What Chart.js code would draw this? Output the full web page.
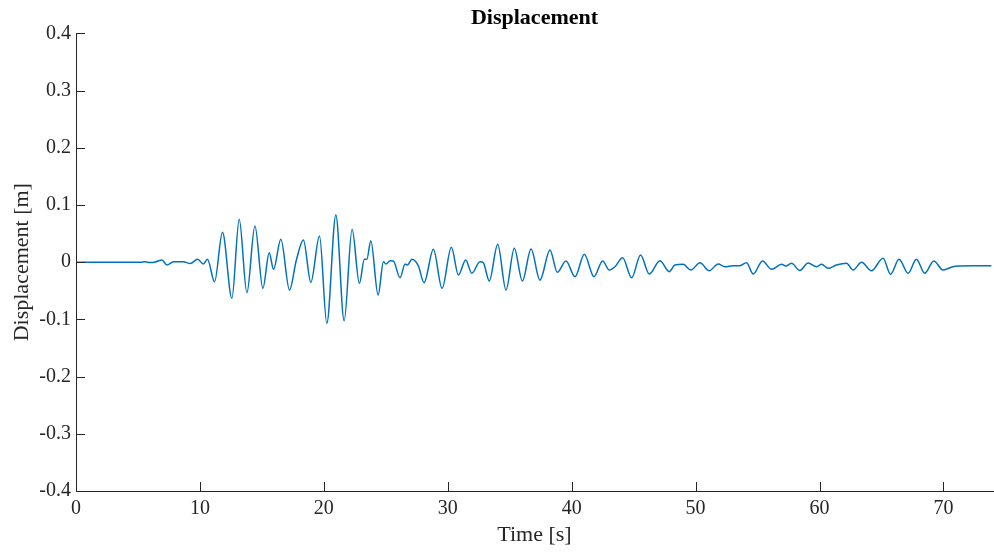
<!DOCTYPE html>
<html>
<head>
<meta charset="utf-8">
<script src="https://cdn.jsdelivr.net/npm/chart.js@4"></script>
<style>
  html, body { margin: 0; padding: 0; background: #fff; }
  #wrap { width: 994px; height: 552px; }
</style>
</head>
<body>
<div id="wrap"><canvas id="myChart" width="994" height="552"></canvas></div>
<script>
// Time [s] and displacement [m].
const timeValues = [
  0, 3.73, 5.19, 5.59, 5.99, 6.4, 6.94, 7.34, 7.87, 8.65, 9.22, 9.82, 10.28, 10.61,
  11.18, 11.82, 12.58, 13.17, 13.79, 14.44, 15.08, 15.59, 15.94, 16.53, 17.23, 17.77,
  18.35, 18.95, 19.65, 20.24, 20.97, 21.64, 22.28, 22.87, 23.27, 23.47, 23.79, 24.38,
  24.81, 25.02, 25.35, 25.61, 26.15, 26.56, 26.74, 27.12, 27.63, 28.09, 28.84, 29.54,
  30.29, 30.86, 31.45, 31.94, 32.6, 32.87, 33.35, 34.03, 34.7, 35.37, 36.02, 36.72,
  37.44, 38.25, 38.84, 39.54, 40.27, 41.02, 41.8, 42.5, 43.03, 43.49, 44.11, 44.84,
  45.56, 46.26, 47.12, 47.87, 48.33, 49.0, 49.62, 50.35, 51.1, 51.82, 52.36, 53.03,
  53.57, 54.11, 54.65, 55.4, 56.13, 56.94, 57.28, 57.74, 58.41, 59.08, 59.76, 60.16,
  60.69, 61.37, 62.18, 62.71, 63.39, 64.19, 65.13, 65.73, 66.42, 67.15, 67.82, 68.49,
  69.22, 69.97, 70.77, 71.32, 72.37, 73.87
];
const displacementValues = [
  0, 0, 0, 0.0007, -0.0007, 0.0003, 0.0039, -0.0049, 0.0009, 0.0009, -0.0023, 0.0053, -0.0032, 0.0051,
  -0.0342, 0.0524, -0.0632, 0.0751, -0.0534, 0.0634, -0.0457, 0.0166, -0.0124, 0.0401, -0.0487, 0.0026,
  0.0389, -0.0352, 0.0459, -0.107, 0.0827, -0.1025, 0.0576, -0.037, 0.005, 0.005, 0.0377, -0.0574,
  0.0009, -0.0032, 0.0026, 0.0021, -0.0271, -0.0032, -0.0049, 0.0051, -0.0067, -0.0359, 0.0226, -0.0457,
  0.0261, -0.0224, 0.0039, -0.0194, 0.0009, -0.0009, -0.0329, 0.0313, -0.0487, 0.0243, -0.0329, 0.0231,
  -0.0312, 0.0214, -0.0177, 0.0021, -0.0254, 0.0138, -0.0254, 0.0021, -0.0137, -0.0079, 0.0079, -0.0271,
  0.0126, -0.0207, 0.0026, -0.0166, -0.0049, -0.0037, -0.0137, -0.0009, -0.0149, -0.0032, -0.0079, -0.0061,
  -0.0061, -0.0009, -0.0207, 0.0021, -0.0124, -0.0037, -0.0067, -0.0019, -0.0145, -0.0014, -0.0079, -0.0037,
  -0.0107, -0.0049, -0.0019, -0.0137, -0.0002, -0.0149, 0.0068, -0.0212, 0.0051, -0.0194, 0.0051, -0.0194,
  0.0021, -0.0137, -0.0079, -0.0067, -0.0061, -0.0061
];
const xTicks = [0, 10, 20, 30, 40, 50, 60, 70];
const yTicks = [-0.4, -0.3, -0.2, -0.1, 0, 0.1, 0.2, 0.3, 0.4];

const axisColor = '#262626';
const serif = "'Liberation Serif', 'DejaVu Serif', serif";

// MATLAB style ticks point into the plot, Chart.js draws them outward,
// so draw them here from the scales.
const inwardTicks = {
  id: 'inwardTicks',
  afterDatasetsDraw(chart) {
    const { ctx, chartArea, scales } = chart;
    ctx.save();
    ctx.strokeStyle = axisColor;
    ctx.lineWidth = 1;
    ctx.beginPath();
    for (const v of yTicks) {
      const py = Math.round(scales.y.getPixelForValue(v)) + 0.5;
      ctx.moveTo(chartArea.left, py);
      ctx.lineTo(chartArea.left + 9, py);
    }
    for (const v of xTicks) {
      const px = Math.round(scales.x.getPixelForValue(v)) + 0.5;
      ctx.moveTo(px, chartArea.bottom);
      ctx.lineTo(px, chartArea.bottom - 9);
    }
    ctx.stroke();
    ctx.restore();
  },
};

const points = timeValues.map((t, i) => ({ x: t, y: displacementValues[i] }));

const ctx = document.getElementById('myChart');
const myChart = new Chart(ctx, {
  type: 'line',
  data: {
    datasets: [
      {
        label: 'Displacement',
        data: points,
        borderColor: '#0072BD',
        borderWidth: 1.5,
        pointRadius: 0,
        cubicInterpolationMode: 'monotone',
        fill: false,
      },
    ],
  },
  options: {
    responsive: false,
    animation: false,
    layout: { padding: { left: 0, right: 1, top: 0, bottom: 0 } },
    plugins: {
      legend: { display: false },
      tooltip: { enabled: false },
      title: {
        display: true,
        fullSize: false,
        text: 'Displacement',
        color: '#000',
        font: { family: serif, size: 22, weight: 'bold' },
        padding: { top: 5, bottom: 2 },
      },
    },
    scales: {
      x: {
        type: 'linear',
        min: 0,
        max: 74,
        afterBuildTicks: (scale) => {
          scale.ticks = xTicks.map((v) => ({ value: v }));
        },
        afterFit: (scale) => {
          scale.height = 61;
        },
        grid: { display: false, drawTicks: false },
        border: { display: true, color: axisColor, width: 1 },
        ticks: {
          color: axisColor,
          padding: 6,
          maxRotation: 0,
          font: { family: serif, size: 20 },
        },
        title: {
          display: true,
          text: 'Time [s]',
          color: axisColor,
          padding: { top: 0, bottom: 4 },
          font: { family: serif, size: 22 },
        },
      },
      y: {
        min: -0.4,
        max: 0.4,
        afterBuildTicks: (scale) => {
          scale.ticks = yTicks.map((v) => ({ value: v }));
        },
        afterFit: (scale) => {
          scale.width = 76;
        },
        grid: { display: false, drawTicks: false },
        border: { display: true, color: axisColor, width: 1 },
        ticks: {
          color: axisColor,
          padding: 5,
          font: { family: serif, size: 20 },
          callback: (v) => (Math.abs(v) < 1e-9 ? '0' : Number(v).toFixed(1)),
        },
        title: {
          display: true,
          text: 'Displacement [m]',
          color: axisColor,
          padding: { top: 9, bottom: 0 },
          font: { family: serif, size: 22 },
        },
      },
    },
  },
  plugins: [inwardTicks],
});
</script>
</body>
</html>
